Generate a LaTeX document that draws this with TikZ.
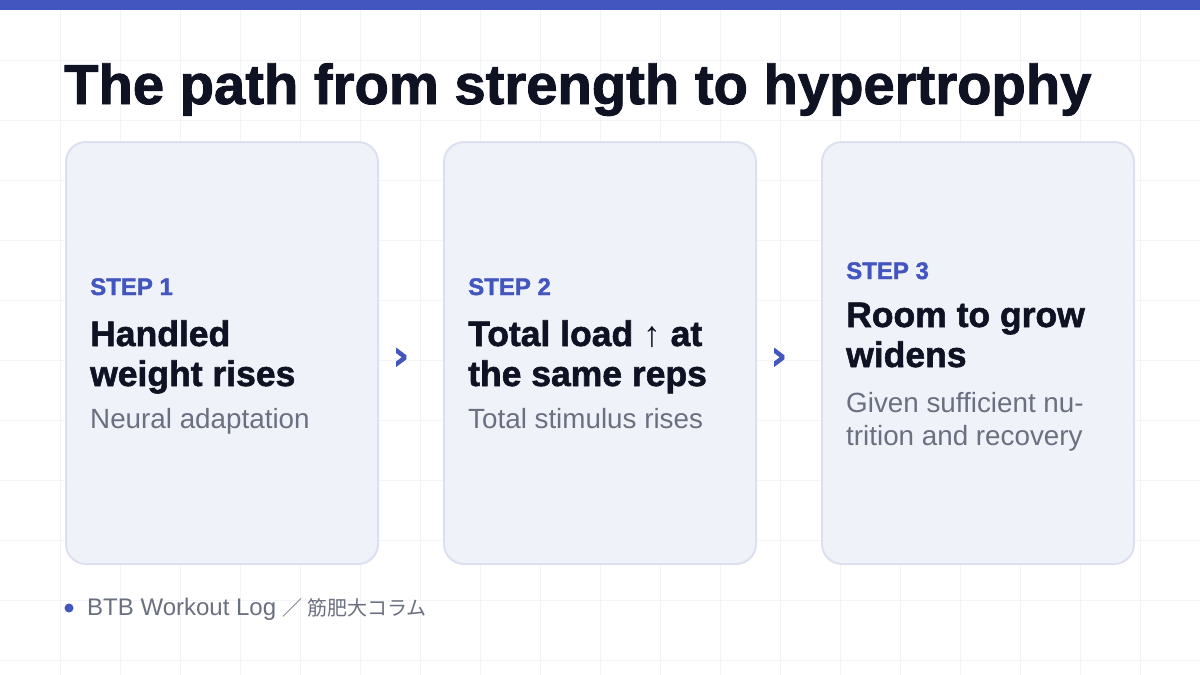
\documentclass[tikz,border=0pt]{standalone}
\usepackage{fontspec}
\setmainfont{Liberation Sans}
\newfontfamily\heavyfont[FakeBold=1.6]{Liberation Sans Bold}
\newfontfamily\symfont[FakeBold=1.5]{DejaVu Sans Bold}
\newfontfamily\jpfont{Noto Sans CJK JP}

\definecolor{brandblue}{HTML}{4356BF}
\definecolor{ink}{HTML}{0F1222}
\definecolor{cardfill}{HTML}{F0F2FA}
\definecolor{cardline}{HTML}{DDE1EF}
\definecolor{subgray}{HTML}{6B7080}
\definecolor{gridgray}{HTML}{F3F4F7}

\tikzset{
  card/.style={draw=cardline, line width=2pt, fill=cardfill, rounded corners=20pt,
    minimum width=312pt, minimum height=422pt, inner sep=0pt},
  steplabel/.style={anchor=base west, inner sep=0pt, text=brandblue,
    font=\fontsize{24}{28}\heavyfont},
  headline/.style={anchor=base west, inner sep=0pt, text=ink,
    font=\fontsize{35.5}{40}\heavyfont},
  subline/.style={anchor=base west, inner sep=0pt, text=subgray,
    font=\fontsize{27.8}{33}\selectfont},
  chevron/.style={anchor=base, inner sep=0pt, text=brandblue,
    font=\fontsize{40}{40}\symfont}
}

\begin{document}
\begin{tikzpicture}
[x=1pt,y=-1pt]
\useasboundingbox (0,0) rectangle (1200,675);
\fill[white] (0,0) rectangle (1200,675);

% faint grid
\foreach \gx in {60,120,...,1140} \draw[gridgray] (\gx,10) -- (\gx,675);
\foreach \gy in {60,120,...,660} \draw[gridgray] (0,\gy) -- (1200,\gy);

\fill[brandblue] (0,0) rectangle (1200,10);

\node[anchor=base west, inner sep=0pt, text=ink, font=\fontsize{56.2}{60}\heavyfont]
  (title) at (64,104) {The path from strength to hypertrophy};

\node[card] (card1) at (222,353) {};
\node[card] (card2) at (600,353) {};
\node[card] (card3) at (978,353) {};

\node[chevron] (next1) at (401,369) {›};
\node[chevron] (next2) at (779,369) {›};

% step 1
\node[steplabel] (step1) at (90,295) {STEP 1};
\node[headline] (head1a) at (90,346) {Handled};
\node[headline] (head1b) at (90,386) {weight rises};
\node[subline] (sub1) at (90,428) {Neural adaptation};

% step 2
\node[steplabel] (step2) at (468,295) {STEP 2};
\node[headline] (head2a) at (468,346) {Total load {\fontspec{Liberation Sans}↑} at};
\node[headline] (head2b) at (468,386) {the same reps};
\node[subline] (sub2) at (468,428) {Total stimulus rises};

% step 3
\node[steplabel] (step3) at (846,279) {STEP 3};
\node[headline] (head3a) at (846,327) {Room to grow};
\node[headline] (head3b) at (846,367) {widens};
\node[subline] (sub3a) at (846,412) {Given sufficient nu-};
\node[subline] (sub3b) at (846,445) {trition and recovery};

% footer
\fill[brandblue] (69,608) circle (4.5);
\node[anchor=base west, inner sep=0pt, text=subgray, font=\fontsize{24}{27}\selectfont]
  (source) at (87,615) {BTB Workout Log {\fontsize{20}{24}\jpfont ／ 筋肥大コラム}};
\end{tikzpicture}
\end{document}
